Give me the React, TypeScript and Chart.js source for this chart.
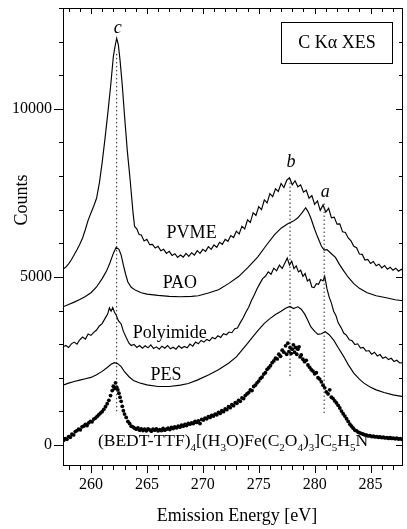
import React, { useEffect, useRef } from 'react';
import { Chart, registerables } from 'chart.js';

Chart.register(...registerables);

const FONT = "'Liberation Serif', 'Times New Roman', 'DejaVu Serif', serif";

// ---- axes ----
const xMin = 257.5;
const xMax = 287.9;
const yMin = -625;
const yMax = 13000;
const xTickValues = [260, 265, 270, 275, 280, 285];
const yTickValues = [0, 5000, 10000];

// ---- spectra: [emission energy eV, counts] ----
const pvme: [number, number][] = [
  [257.5,5230],[257.75,5290],[258,5390],[258.25,5510],[258.5,5660],[258.75,5810],[259,5970],[259.25,6160],[259.5,6410],[259.75,6690],[260,6900],[260.25,7110],[260.5,7340],[260.75,7790],[261,8400],[261.25,9100],[261.5,9850],[261.75,10650],[262,11550],[262.15,11850],[262.3,12100],[262.45,11900],[262.6,11450],[262.8,10700],[263,9800],[263.25,8750],[263.5,7900],[263.75,6950],[263.9,6500],[264.1,6430],[264.3,6260],[264.5,6250],[264.75,6070],[265,6120],[265.25,5960],[265.5,5970],[265.75,5860],[266,5910],[266.25,5780],[266.5,5820],[266.75,5700],[267,5760],[267.25,5640],[267.5,5690],[267.75,5580],[268,5650],[268.25,5590],[268.5,5700],[268.75,5610],[269,5720],[269.25,5650],[269.5,5780],[269.75,5700],[270,5820],[270.25,5760],[270.5,5900],[270.75,5820],[271,5950],[271.25,5880],[271.5,6030],[271.75,5970],[272,6120],[272.25,6060],[272.5,6230],[272.75,6170],[273,6360],[273.25,6280],[273.5,6510],[273.75,6430],[274,6700],[274.25,6620],[274.5,6910],[274.75,6830],[275,7090],[275.25,7000],[275.5,7290],[275.75,7200],[276,7480],[276.25,7390],[276.5,7620],[276.75,7540],[277,7780],[277.25,7660],[277.5,7870],[277.75,7950],[278,7740],[278.25,7860],[278.5,7680],[278.75,7740],[279,7520],[279.25,7580],[279.5,7340],[279.75,7420],[280,7160],[280.25,7260],[280.5,6980],[280.75,7140],[281,6930],[281.25,7040],[281.5,6760],[281.75,6780],[282,6570],[282.25,6580],[282.5,6340],[282.75,6320],[283,6160],[283.25,6070],[283.5,5910],[283.75,5870],[284,5680],[284.25,5670],[284.5,5500],[284.75,5520],[285,5400],[285.25,5460],[285.5,5330],[285.75,5380],[286,5270],[286.25,5340],[286.5,5230],[286.75,5290],[287,5200],[287.25,5260],[287.5,5170],[287.75,5230],[287.9,5180]
];

const pao: [number, number][] = [
  [257.5,4110],[258,4180],[258.5,4250],[259,4330],[259.5,4420],[260,4530],[260.5,4700],[261,4950],[261.4,5180],[261.7,5420],[262,5700],[262.25,5880],[262.5,5820],[262.7,5650],[262.9,5350],[263.1,5080],[263.3,4850],[263.6,4690],[264,4600],[264.5,4530],[265,4490],[266,4450],[267,4420],[268,4410],[269,4420],[269.6,4440],[270.5,4520],[271.4,4620],[272.3,4800],[273.2,5010],[274,5270],[274.9,5590],[275.7,5950],[276.4,6250],[277,6450],[277.6,6580],[278.1,6660],[278.5,6760],[278.9,6920],[279.2,7060],[279.4,6950],[279.65,6760],[280,6420],[280.25,6200],[280.6,5920],[280.85,5800],[281.1,5810],[281.4,5720],[281.86,5580],[282.2,5380],[282.6,5180],[283,4990],[283.5,4800],[284,4660],[284.7,4530],[285.5,4440],[286.4,4380],[287.2,4320],[287.9,4290]
];

const polyimide: [number, number][] = [
  [257.5,2920],[257.75,2960],[258,2900],[258.25,3010],[258.5,3060],[258.75,3000],[259,3130],[259.25,3210],[259.5,3150],[259.75,3300],[260,3260],[260.25,3350],[260.5,3420],[260.75,3540],[261,3610],[261.25,3760],[261.5,3900],[261.65,4080],[261.8,3980],[261.95,4090],[262.1,3950],[262.25,3870],[262.45,3700],[262.7,3600],[262.9,3380],[263.15,3200],[263.4,3030],[263.6,2960],[263.85,2990],[264.1,2900],[264.35,2960],[264.6,2880],[264.85,2950],[265.1,2890],[265.35,2980],[265.6,2870],[265.85,2920],[266.1,2850],[266.35,2940],[266.6,2880],[266.85,2960],[267.1,2860],[267.35,2910],[267.6,2850],[267.85,2950],[268.1,2880],[268.35,2930],[268.6,2890],[268.85,3000],[269.1,2940],[269.35,3060],[269.6,3010],[269.85,3110],[270.1,3060],[270.35,3140],[270.6,3100],[270.85,3200],[271.1,3160],[271.35,3250],[271.6,3200],[271.85,3310],[272.1,3280],[272.35,3360],[272.6,3340],[272.85,3460],[273.1,3480],[273.35,3640],[273.6,3780],[273.85,3950],[274.1,4100],[274.35,4300],[274.6,4460],[274.85,4650],[275.1,4800],[275.35,4950],[275.6,5020],[275.85,5150],[276.1,5080],[276.35,5260],[276.6,5180],[276.85,5350],[277.1,5250],[277.35,5420],[277.55,5560],[277.75,5350],[277.95,5470],[278.15,5250],[278.35,5330],[278.55,5150],[278.75,5200],[278.95,5020],[279.15,5100],[279.35,4880],[279.55,4930],[279.75,4700],[279.95,4680],[280.15,4800],[280.35,4780],[280.55,4920],[280.75,4880],[280.9,5020],[281.1,4650],[281.3,4400],[281.5,4220],[281.7,3980],[281.9,3850],[282.1,3640],[282.35,3500],[282.6,3330],[282.85,3260],[283.1,3130],[283.35,3100],[283.6,2990],[283.85,3010],[284.1,2880],[284.35,2900],[284.6,2790],[284.85,2810],[285.1,2700],[285.35,2760],[285.6,2650],[285.85,2690],[286.1,2580],[286.35,2620],[286.6,2540],[286.85,2580],[287.1,2480],[287.35,2520],[287.6,2440],[287.9,2450]
];

const pes: [number, number][] = [
  [257.5,1780],[258,1840],[258.5,1890],[259,1930],[259.5,1970],[260,2010],[260.5,2090],[261,2190],[261.4,2290],[261.8,2400],[262.1,2450],[262.4,2420],[262.7,2330],[263,2180],[263.4,2030],[263.8,1920],[264.3,1850],[265,1790],[266,1740],[267,1740],[268,1780],[268.7,1830],[269.5,1930],[270.5,2080],[271.4,2240],[272.3,2430],[273,2620],[273.5,2820],[274,3020],[274.5,3230],[275,3430],[275.5,3620],[276,3760],[276.5,3880],[277,3980],[277.4,4070],[277.8,4120],[278.1,4060],[278.5,4110],[278.8,4040],[279.1,3900],[279.4,3700],[279.65,3520],[280,3380],[280.3,3290],[280.6,3310],[280.95,3370],[281.3,3280],[281.7,3120],[282.1,2900],[282.6,2630],[283,2390],[283.5,2140],[284,1960],[284.4,1840],[285,1720],[285.5,1640],[286.2,1560],[287,1490],[287.9,1440]
];

const bedt: [number, number][] = [
  [257.55,140],[257.7,190],[257.85,170],[258,250],[258.15,230],[258.3,320],[258.45,300],[258.6,400],[258.75,430],[258.9,470],[259.05,450],[259.2,540],[259.35,560],[259.5,610],[259.65,580],[259.8,660],[259.95,700],[260.1,690],[260.25,770],[260.4,800],[260.55,850],[260.7,900],[260.85,950],[261,990],[261.15,1060],[261.3,1140],[261.45,1230],[261.6,1330],[261.75,1470],[261.9,1620],[262.0,1750],[262.1,1680],[262.2,1850],[262.3,1720],[262.4,1640],[262.5,1540],[262.6,1420],[262.7,1300],[262.8,1150],[262.9,1020],[263.0,920],[263.15,820],[263.3,700],[263.45,640],[263.6,560],[263.75,540],[263.9,500],[264.05,470],[264.2,510],[264.35,440],[264.5,480],[264.65,430],[264.8,470],[264.95,420],[265.1,480],[265.25,450],[265.4,410],[265.55,470],[265.7,440],[265.85,480],[266,420],[266.15,460],[266.3,430],[266.45,490],[266.6,440],[266.75,470],[266.9,500],[267.05,460],[267.2,520],[267.35,490],[267.5,540],[267.65,510],[267.8,560],[267.95,530],[268.1,590],[268.25,560],[268.4,610],[268.55,580],[268.7,640],[268.85,620],[269,660],[269.15,640],[269.3,700],[269.45,670],[269.6,720],[269.75,640],[269.9,760],[270.05,740],[270.2,800],[270.35,780],[270.5,840],[270.65,820],[270.8,880],[270.95,860],[271.1,920],[271.25,900],[271.4,970],[271.55,940],[271.7,1020],[271.85,990],[272,1070],[272.15,1050],[272.3,1140],[272.45,1110],[272.6,1200],[272.75,1170],[272.9,1260],[273.05,1240],[273.2,1330],[273.35,1300],[273.5,1400],[273.65,1380],[273.8,1470],[273.95,1520],[274.1,1560],[274.25,1640],[274.4,1620],[274.55,1740],[274.7,1780],[274.85,1850],[275,1900],[275.15,1980],[275.3,2020],[275.45,2110],[275.6,2150],[275.75,2250],[275.9,2300],[276.05,2360],[276.2,2450],[276.35,2500],[276.5,2580],[276.65,2560],[276.8,2700],[276.95,2640],[277.1,2820],[277.25,2760],[277.4,2950],[277.5,2700],[277.6,3030],[277.7,2780],[277.8,2900],[277.9,2720],[278.0,2850],[278.1,2980],[278.2,2760],[278.3,2900],[278.4,2700],[278.5,2850],[278.6,2920],[278.7,2620],[278.8,2680],[278.95,2550],[279.1,2480],[279.25,2520],[279.4,2380],[279.55,2310],[279.7,2240],[279.85,2200],[280,2120],[280.15,2150],[280.3,2000],[280.45,1960],[280.6,1880],[280.75,1780],[280.9,1700],[281.05,1580],[281.2,1520],[281.35,1640],[281.5,1420],[281.65,1380],[281.8,1310],[281.95,1250],[282.1,1180],[282.25,1100],[282.4,1010],[282.55,930],[282.7,860],[282.85,780],[283,700],[283.15,620],[283.3,560],[283.45,500],[283.6,440],[283.75,420],[283.9,380],[284.05,360],[284.2,340],[284.35,320],[284.5,300],[284.65,290],[284.8,270],[284.95,280],[285.1,250],[285.25,260],[285.4,240],[285.55,250],[285.7,230],[285.85,240],[286,220],[286.15,230],[286.3,210],[286.45,220],[286.6,200],[286.75,215],[286.9,195],[287.05,205],[287.2,185],[287.35,200],[287.5,175],[287.65,190],[287.8,170]
];

// ---- peak markers (dotted verticals) ----
const peakNames = ['c', 'b', 'a'];
const peakEnergies = [262.3, 277.8, 280.85];
const peakLow = [1000, 2050, 950];
const peakHigh = [11700, 8000, 7200];
const peakLabelCounts = [12400, 8400, 7520];

// ---- curve names and label anchor (energy, counts) ----
const curveNames = ['PVME', 'PAO', 'Polyimide', 'PES'];
const curveLabelEnergy = [269.0, 267.95, 267.05, 266.7];
const curveLabelCounts = [6300, 4820, 3330, 2080];

const toXY = (arr: [number, number][]) => arr.map(([x, y]) => ({ x, y }));

const drawSubText = (ctx: CanvasRenderingContext2D, parts: [string, boolean][], cx: number, cy: number, size: number) => {
  const subSize = Math.round(size * 0.62);
  let total = 0;
  const widths = parts.map(([t, sub]) => {
    ctx.font = `${sub ? subSize : size}px ${FONT}`;
    const w = ctx.measureText(t).width;
    total += w;
    return w;
  });
  let x = cx - total / 2;
  ctx.textAlign = 'left';
  ctx.textBaseline = 'alphabetic';
  parts.forEach(([t, sub], i) => {
    ctx.font = `${sub ? subSize : size}px ${FONT}`;
    ctx.fillText(t, x, cy + (sub ? size * 0.3 : 0) + size * 0.33);
    x += widths[i];
  });
};

const decorPlugin = {
  id: 'decor',
  afterDraw(chart: any) {
    const { ctx, chartArea: a } = chart;
    const xs = chart.scales.x;
    const ys = chart.scales.y;
    ctx.save();
    ctx.strokeStyle = '#000';
    ctx.fillStyle = '#000';
    ctx.lineWidth = 1;
    ctx.strokeRect(a.left + 0.5, a.top + 0.5, a.right - a.left - 1, a.bottom - a.top - 1);
    ctx.beginPath();
    for (let v = Math.ceil(xMin); v <= Math.floor(xMax); v++) {
      const px = Math.round(xs.getPixelForValue(v)) + 0.5;
      const major = v % 5 === 0;
      ctx.moveTo(px, a.bottom);
      ctx.lineTo(px, a.bottom + (major ? 7 : 4));
      ctx.moveTo(px, a.top);
      ctx.lineTo(px, a.top + (major ? 6 : 4));
    }
    for (let v = 0; v <= yMax; v += 1000) {
      const py = Math.round(ys.getPixelForValue(v)) + 0.5;
      const major = v % 5000 === 0;
      ctx.moveTo(a.left - (major ? 9 : 4), py);
      ctx.lineTo(a.left, py);
      ctx.moveTo(a.right, py);
      ctx.lineTo(a.right - (major ? 7 : 4), py);
    }
    ctx.stroke();

    ctx.font = `italic 18px ${FONT}`;
    ctx.textAlign = 'center';
    ctx.textBaseline = 'middle';
    peakNames.forEach((n, i) => {
      ctx.fillText(n, xs.getPixelForValue(peakEnergies[i]) + 1, ys.getPixelForValue(peakLabelCounts[i]));
    });

    ctx.font = `18px ${FONT}`;
    curveNames.forEach((n, i) => {
      ctx.fillText(n, xs.getPixelForValue(curveLabelEnergy[i]), ys.getPixelForValue(curveLabelCounts[i]));
    });

    drawSubText(ctx, [
      ['(BEDT-TTF)', false], ['4', true], ['[(H', false], ['3', true], ['O)Fe(C', false], ['2', true],
      ['O', false], ['4', true], [')', false], ['3', true], [']C', false], ['5', true], ['H', false], ['5', true], ['N', false]
    ], xs.getPixelForValue(272.7), ys.getPixelForValue(150), 17.5);

    ctx.lineWidth = 1;
    ctx.strokeRect(281.5, 22.5, 111, 41);
    ctx.font = `18px ${FONT}`;
    ctx.textAlign = 'center';
    ctx.textBaseline = 'middle';
    ctx.fillText('C K\u03B1 XES', 337, 43);

    ctx.fillText('Emission Energy [eV]', 237, 516);
    ctx.save();
    ctx.translate(22, 200);
    ctx.rotate(-Math.PI / 2);
    ctx.fillText('Counts', 0, 0);
    ctx.restore();

    ctx.restore();
  },
};

export default function App() {
  const ref = useRef<HTMLCanvasElement | null>(null);
  useEffect(() => {
    if (!ref.current) return;
    const lineDs = (data: [number, number][]) => ({
      data: toXY(data),
      showLine: true,
      borderColor: '#000',
      borderWidth: 1.15,
      pointRadius: 0,
      tension: 0,
      fill: false,
    });
    const peakDs = peakEnergies.map((e, i) => ({
      data: [{ x: e, y: peakLow[i] }, { x: e, y: peakHigh[i] }],
      showLine: true,
      borderColor: '#222',
      borderWidth: 1,
      borderDash: [1.5, 2.5],
      pointRadius: 0,
      fill: false,
    }));
    const chart = new Chart(ref.current, {
      type: 'scatter',
      data: {
        datasets: [
          ...peakDs,
          lineDs(pvme),
          lineDs(pao),
          lineDs(polyimide),
          lineDs(pes),
          {
            data: toXY(bedt),
            showLine: false,
            pointRadius: 1.9,
            pointBackgroundColor: '#000',
            pointBorderWidth: 0,
            borderColor: '#000',
          },
        ] as any,
      },
      options: {
        animation: false,
        responsive: false,
        layout: { padding: { top: 8, right: 1, left: 0, bottom: 0 } },
        plugins: { legend: { display: false }, tooltip: { enabled: false } },
        scales: {
          x: {
            type: 'linear',
            min: xMin,
            max: xMax,
            afterBuildTicks: (s: any) => { s.ticks = xTickValues.map((v) => ({ value: v })); },
            afterFit: (s: any) => { s.height = 63; s.paddingLeft = 0; s.paddingRight = 0; },
            grid: { display: false, drawTicks: false },
            border: { display: false },
            ticks: { color: '#000', font: { family: FONT, size: 16 }, padding: 9, maxRotation: 0, autoSkip: false, callback: (v: any) => String(v) },
          },
          y: {
            type: 'linear',
            min: yMin,
            max: yMax,
            afterBuildTicks: (s: any) => { s.ticks = yTickValues.map((v) => ({ value: v })); },
            afterFit: (s: any) => { s.width = 63; s.paddingTop = 0; s.paddingBottom = 0; },
            grid: { display: false, drawTicks: false },
            border: { display: false },
            ticks: { color: '#000', font: { family: FONT, size: 16 }, padding: 11, callback: (v: any) => String(v) },
          },
        },
      },
      plugins: [decorPlugin],
    });
    return () => chart.destroy();
  }, []);
  return (
    <div style={{ position: 'absolute', left: 0, top: 0, width: 407, height: 529, background: '#fff' }}>
      <canvas ref={ref} width={407} height={529} style={{ width: 407, height: 529, display: 'block' }} />
    </div>
  );
}
